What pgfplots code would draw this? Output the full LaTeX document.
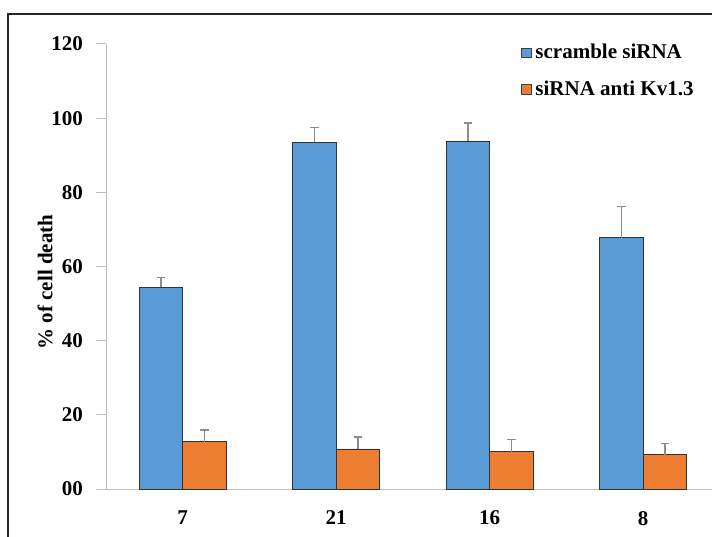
\documentclass[border=0pt]{standalone}
\usepackage{fontspec}
\setmainfont{Liberation Serif}
\usepackage{pgfplots}
\pgfplotsset{compat=1.18}
\definecolor{cblue}{HTML}{5B9BD5}
\definecolor{corange}{HTML}{ED7D31}
\definecolor{axgray}{HTML}{BFBFBF}
\definecolor{errgray}{HTML}{8C8C8C}
\begin{document}
\begin{tikzpicture}
\clip (0,0) rectangle (356pt,268pt);
\fill[white] (0,0) rectangle (356pt,268pt);
\begin{axis}[
  at={(53pt,23.5pt)}, anchor=south west,
  scale only axis, width=307pt, height=222.5pt,
  xmin=-0.5, xmax=3.5, ymin=0, ymax=120,
  axis x line*=bottom, axis y line*=left,
  axis line style={axgray, line width=0.5pt},
  x axis line style={-}, y axis line style={-},
  xtick={0,1,2,3}, xticklabels={7,21,16,8},
  major x tick style={draw=none},
  extra x ticks={0.5,1.5,2.5},
  extra x tick labels={},
  extra x tick style={major tick length=5pt, tick style={axgray, line width=0.5pt}, tick align=outside},
  ytick={0,20,40,60,80,100,120},
  yticklabels={00,20,40,60,80,100,120},
  tick align=outside, major tick length=5pt,
  tick style={axgray, line width=0.5pt},
  /pgf/number format/assume math mode=true,
  ticklabel style={font=\fontsize{10.5}{12}\selectfont\bfseries},
  xticklabel style={yshift=-2.5pt},
  yticklabel style={xshift=-3pt},
  ylabel={\% of cell death},
  ylabel style={font=\fontsize{10.5}{12}\selectfont\bfseries, at={(axis description cs:-0.099,0.465)}, anchor=center},
  legend style={at={(axis description cs:0.676,1.01)}, anchor=north west, draw=none, fill=none,
    font=\fontsize{10.5}{12}\selectfont\bfseries, row sep=5.5pt, inner sep=0pt},
  legend cell align=left,
  legend image code/.code={\draw[#1, draw=black!75, line width=0.4pt] (0pt,-2.3pt) rectangle (4.6pt,2.3pt);},
  clip=false,
]
\addplot[ybar, bar width=0.284, bar shift=0, fill=cblue, draw=black!80, line width=0.4pt,
  error bars/.cd, y dir=plus, y explicit,
  error bar style={errgray, line width=0.6pt},
  error mark options={errgray, rotate=90, mark size=2.2pt, line width=0.6pt}]
  coordinates {(-0.142,54.4) +- (0,2.7) (0.858,93.5) +- (0,3.9) (1.858,93.85) +- (0,4.85) (2.858,67.8) +- (0,8.3)};
\addlegendentry{scramble siRNA}
\addplot[ybar, bar width=0.284, bar shift=0, fill=corange, draw=black!80, line width=0.4pt,
  error bars/.cd, y dir=plus, y explicit,
  error bar style={errgray, line width=0.6pt},
  error mark options={errgray, rotate=90, mark size=2.2pt, line width=0.6pt}]
  coordinates {(0.142,12.8) +- (0,3.1) (1.142,10.8) +- (0,3.2) (2.142,10.1) +- (0,3.3) (3.142,9.3) +- (0,3.0)};
\addlegendentry{siRNA anti Kv1.3}
\end{axis}
\draw[black!85, line width=0.6pt] (4pt,-2pt) -- (4pt,261pt) -- (360pt,261pt);
\end{tikzpicture}
\end{document}
